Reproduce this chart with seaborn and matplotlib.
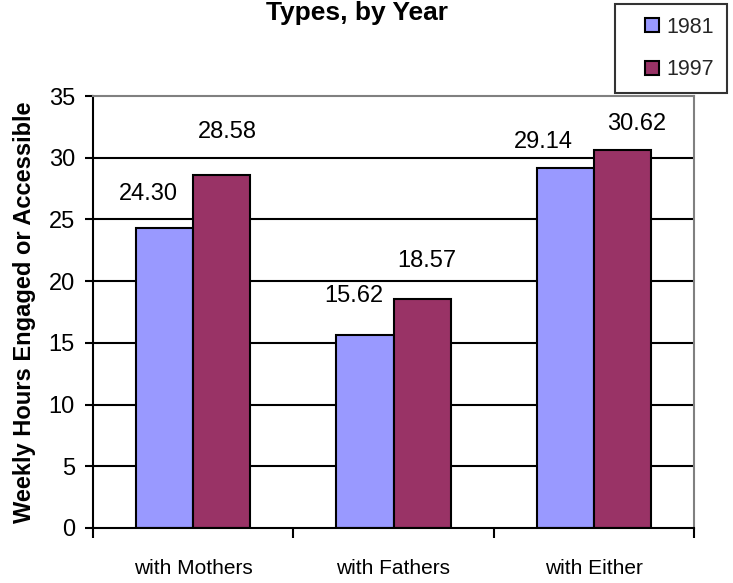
import matplotlib
matplotlib.use("Agg")
import matplotlib.pyplot as plt
import seaborn as sns
import pandas as pd
from matplotlib.lines import Line2D

# ---- data ----
categories = ["with Mothers", "with Fathers", "with Either"]
years = ["1981", "1997"]
values_1981 = [24.30, 15.62, 29.14]
values_1997 = [28.58, 18.57, 30.62]
yticks = [0, 5, 10, 15, 20, 25, 30, 35]
title = "Types, by Year"
ylabel = "Weekly Hours Engaged or Accessible"

# label offsets (pixels, relative to bar top centre) - styling only
label_dx = {"1981": [-16, -11, -22], "1997": [6, 5, 14]}
label_dy = {"1981": [34, 39, 26], "1997": [43, 38, 26]}

colors = {"1981": "#9999FF", "1997": "#993366"}

df = pd.DataFrame({
    "category": categories * 2,
    "year": [years[0]] * 3 + [years[1]] * 3,
    "hours": values_1981 + values_1997,
})

sns.set_theme(style="white")
plt.rcParams["font.family"] = ["Liberation Sans", "DejaVu Sans"]

W, H = 733, 583
fig = plt.figure(figsize=(W / 100, H / 100), dpi=100)
ax = fig.add_axes([93 / W, 1 - 528 / H, (694 - 93) / W, (528 - 96) / H])

sns.barplot(data=df, x="category", y="hours", hue="year", palette=colors,
            order=categories, hue_order=years, width=0.571, gap=0,
            saturation=1, edgecolor="black", linewidth=1.5, ax=ax,
            legend=False, zorder=3)

ax.set_xlim(-0.5, 2.5)
ax.set_ylim(0, 35)
ax.set_yticks(yticks)
ax.set_yticklabels([str(t) for t in yticks], fontsize=17, color="black")
for t in yticks[1:-1]:
    ax.axhline(t, color="black", linewidth=1.5, zorder=1)

# category boundaries as major ticks, labels on minor ticks
ax.set_xticks([-0.5, 0.5, 1.5, 2.5])
ax.set_xticklabels([])
ax.set_xticks([0, 1, 2], minor=True)
ax.set_xticklabels(categories, minor=True, fontsize=15, color="black")
ax.tick_params(axis="x", which="major", direction="out", length=7, width=1.5,
               color="black", bottom=True)
ax.tick_params(axis="x", which="minor", length=0, pad=22)
ax.tick_params(axis="y", direction="out", length=6, width=1.5, color="black",
               left=True, pad=7)
ax.set_xlabel("")
ax.set_ylabel("")

for side in ["left", "bottom"]:
    ax.spines[side].set_color("black")
    ax.spines[side].set_linewidth(1.5)
for side in ["top", "right"]:
    ax.spines[side].set_color("#808080")
    ax.spines[side].set_linewidth(1.5)
for s in ax.spines.values():
    s.set_visible(True)
    s.set_zorder(4)

# value labels
for ci, container in enumerate(ax.containers):
    yr = years[ci]
    for bi, bar in enumerate(container.patches):
        v = bar.get_height()
        ax.annotate(f"{v:.2f}", xy=(bar.get_x() + bar.get_width() / 2, v),
                    xytext=(label_dx[yr][bi] * 0.72, label_dy[yr][bi] * 0.72),
                    textcoords="offset points", ha="center", va="center",
                    fontsize=17, color="black", annotation_clip=False)

fig.text(357 / W, 1 - 13 / H, title, ha="center", va="center",
         fontsize=19, fontweight="bold", color="black")
fig.text(25 / W, 1 - 312 / H, ylabel, ha="center", va="center", rotation=90,
         fontsize=17, fontweight="bold", color="black")

handles = [Line2D([], [], marker="s", linestyle="none", markersize=10.5,
                  markerfacecolor=colors[y], markeredgecolor="black",
                  markeredgewidth=1.5) for y in years]
leg = fig.legend(handles, years, loc="upper left",
                 bbox_to_anchor=(615 / W, 1 - 4 / H), fontsize=15.5,
                 frameon=True, fancybox=False, edgecolor="black",
                 borderpad=0.6, labelspacing=1.0, handlelength=2.2,
                 handletextpad=-0.4, borderaxespad=0)
leg.get_frame().set_linewidth(1.5)

fig.savefig("out.png", dpi=100, facecolor="white")
